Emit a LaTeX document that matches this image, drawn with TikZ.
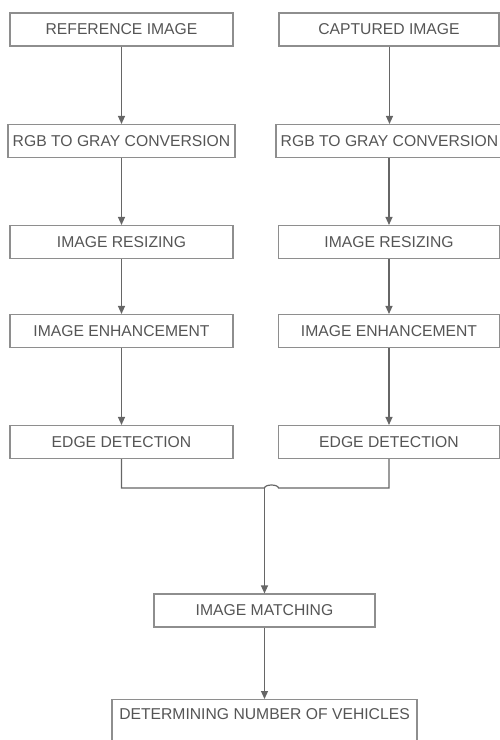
\documentclass[tikz,border=0pt]{standalone}
\usepackage{fontspec}
\setmainfont{Liberation Sans}
\usetikzlibrary{arrows.meta}
\definecolor{linegray}{HTML}{666666}
\definecolor{boxgray}{HTML}{8E8E8E}
\definecolor{txtgray}{HTML}{555555}

\begin{document}
\begin{tikzpicture}[x=1pt,y=-1pt,
  box/.style={draw=boxgray, line width=1.1pt, minimum height=33pt, inner sep=0pt,
    text=txtgray, font=\fontsize{15.7}{18}\selectfont},
  flow/.style={draw=linegray, line width=1.2pt, -{Triangle[width=7pt,length=8pt]}},
  link/.style={draw=linegray, line width=1.2pt}]
\useasboundingbox (0,0) rectangle (499,740);
% left column
\node [box, minimum width=223pt] (refL) at (121.5,29.5) {REFERENCE IMAGE};
\node [box, minimum width=227pt] (grayL) at (121.5,141) {RGB TO GRAY CONVERSION};
\node [box, minimum width=223pt] (sizeL) at (121.5,242) {IMAGE RESIZING};
\node [box, minimum width=223pt] (enhL) at (121.5,331) {IMAGE ENHANCEMENT};
\node [box, minimum width=223pt] (edgeL) at (121.5,442) {EDGE DETECTION};
% right column
\node [box, minimum width=220pt] (capR) at (389,29.5) {CAPTURED IMAGE};
\node [box, minimum width=227pt] (grayR) at (389.5,141) {RGB TO GRAY CONVERSION};
\node [box, minimum width=221pt] (sizeR) at (389,242) {IMAGE RESIZING};
\node [box, minimum width=221pt] (enhR) at (389,331) {IMAGE ENHANCEMENT};
\node [box, minimum width=221pt] (edgeR) at (389,442) {EDGE DETECTION};
% common part
\node [box, minimum width=221pt] (match) at (264.5,610.5) {IMAGE MATCHING};
\node [box, minimum width=305pt, minimum height=0pt, anchor=north, inner ysep=8.5pt,
  text depth=44pt] (count) at (264.5,699) {DETERMINING NUMBER OF VEHICLES};
\foreach \a/\b in {refL/grayL, grayL/sizeL, sizeL/enhL, enhL/edgeL,
                   capR/grayR, grayR/sizeR, sizeR/enhR, enhR/edgeR, match/count}
  \draw [flow] (\a.south -| \b.north) -- (\b.north);
% joining the two columns
\coordinate (hopA) at (264.5,488);
\coordinate (hopB) at (278.5,488);
\draw [link] (edgeL.south) |- (hopA) arc (180:0:7pt and 3pt) -- (hopB -| edgeR.south)
  -- (edgeR.south);
\draw [flow] (hopA) -- (match.north);
\end{tikzpicture}
\end{document}
